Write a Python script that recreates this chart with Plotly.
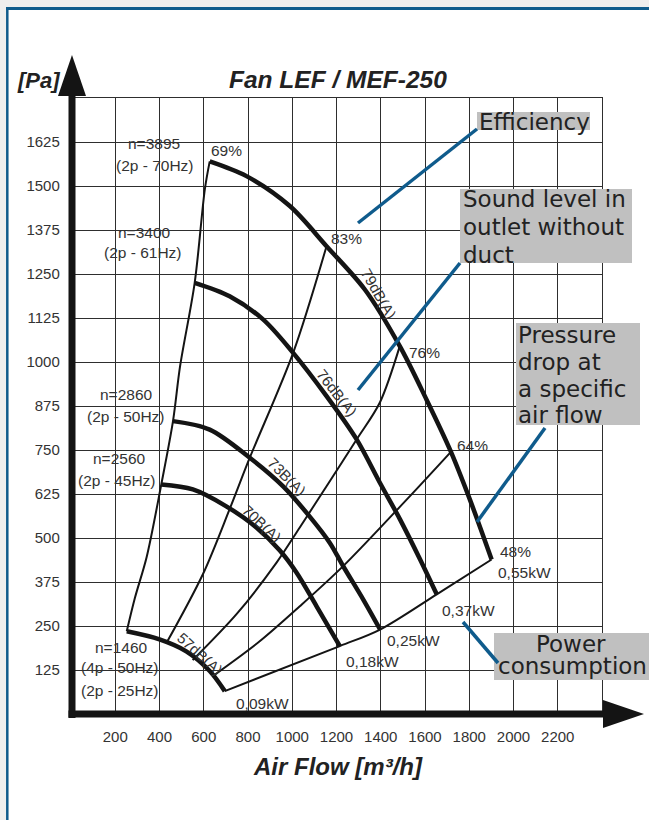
import plotly.graph_objects as go

# ---------------- data ----------------
flow_ticks = [200, 400, 600, 800, 1000, 1200, 1400, 1600, 1800, 2000, 2200]
pressure_ticks = [125, 250, 375, 500, 625, 750, 875, 1000, 1125, 1250, 1375, 1500, 1625]

# fan curves (air flow m3/h, static pressure Pa)
n3895_flow = [627, 793, 989, 1155, 1328, 1486, 1607, 1713, 1803, 1901]
n3895_pa = [1570, 1528, 1443, 1329, 1206, 1045, 893, 751, 609, 439]
n3400_flow = [559, 717, 868, 1004, 1155, 1291, 1396, 1487, 1578, 1653]
n3400_pa = [1225, 1187, 1121, 1026, 903, 780, 657, 553, 439, 340]
n2860_flow = [461, 627, 808, 960, 1080, 1170, 1231, 1321, 1397]
n2860_pa = [832, 808, 728, 646, 560, 486, 419, 325, 240]
n2560_flow = [408, 551, 702, 838, 943, 1019, 1110, 1215]
n2560_pa = [652, 638, 590, 530, 465, 402, 306, 193]
n1460_flow = [252, 400, 521, 627, 695]
n1460_pa = [235, 212, 178, 122, 65]

# left boundary (curve start points)
bound_flow = [252, 289, 342, 408, 461, 493, 559, 605, 627]
bound_pa = [235, 330, 446, 652, 832, 988, 1225, 1491, 1570]
# power / 48 % line (curve end points)
power_flow = [695, 1215, 1397, 1653, 1901]
power_pa = [65, 193, 240, 340, 439]
# efficiency lines
eff83_flow = [430, 596, 717, 808, 1004, 1155]
eff83_pa = [200, 397, 582, 728, 1026, 1329]
eff76_flow = [550, 750, 929, 1034, 1155, 1291, 1396, 1486]
eff76_pa = [153, 285, 430, 530, 647, 780, 885, 1045]
eff64_flow = [642, 850, 1034, 1230, 1517, 1713]
eff64_pa = [108, 205, 306, 420, 609, 742]

speed_labels = [["n=3895", "(2p - 70Hz)"], ["n=3400", "(2p - 61Hz)"],
                ["n=2860", "(2p - 50Hz)"], ["n=2560", "(2p - 45Hz)"],
                ["n=1460", "(4p - 50Hz)", "(2p - 25Hz)"]]
eff_labels = ["69%", "83%", "76%", "64%", "48%"]
power_labels = ["0,09kW", "0,18kW", "0,25kW", "0,37kW", "0,55kW"]
sound_labels = ["79dB(A)", "76dB(A)", "73B(A)", "70B(A)", "57dB(A)"]
callouts = [["Efficiency"], ["Sound level in", "outlet without", "duct"],
            ["Pressure", "drop at", "a specific", "air flow"], ["Power", "consumption"]]

# ---------------- layout geometry ----------------
W, H = 649, 820
ML, MR, MT, MB = 71, 47, 98, 106
PW, PH = W - ML - MR, H - MT - MB


def P(x, y):
    """pixel -> paper coordinates"""
    return (x - ML) / PW, (H - MB - y) / PH


FONT = "Liberation Sans, Arial, sans-serif"
VFONT = "DejaVu Sans, Verdana, sans-serif"
INK = "#141414"
TXT = "#333333"
BLUE = "#0f5b8c"

fig = go.Figure()

thick = dict(color=INK, width=4.5, shape="spline", smoothing=0.9)
thin = dict(color=INK, width=2, shape="spline", smoothing=0.9)
for fx, fy in [(n3895_flow, n3895_pa), (n3400_flow, n3400_pa), (n2860_flow, n2860_pa),
               (n2560_flow, n2560_pa), (n1460_flow, n1460_pa)]:
    fig.add_trace(go.Scatter(x=fx, y=fy, mode="lines", line=thick, hoverinfo="skip"))
for fx, fy in [(bound_flow, bound_pa), (power_flow, power_pa), (eff83_flow, eff83_pa),
               (eff76_flow, eff76_pa), (eff64_flow, eff64_pa)]:
    fig.add_trace(go.Scatter(x=fx, y=fy, mode="lines", line=thin, hoverinfo="skip"))

shapes = []
# page frame
shapes.append(dict(type="rect", xref="paper", yref="paper", layer="below",
                   x0=P(0, 0)[0], y0=P(0, 0)[1], x1=P(649, 7)[0], y1=P(649, 7)[1],
                   fillcolor="#eeeeee", line=dict(width=0)))
shapes.append(dict(type="rect", xref="paper", yref="paper", layer="below",
                   x0=P(0, 0)[0], y0=P(0, 0)[1], x1=P(6, 820)[0], y1=P(6, 820)[1],
                   fillcolor="#eeeeee", line=dict(width=0)))
shapes.append(dict(type="line", xref="paper", yref="paper",
                   x0=P(6, 8.5)[0], y0=P(6, 8.5)[1], x1=P(649, 8.5)[0], y1=P(649, 8.5)[1],
                   line=dict(color=BLUE, width=3)))
shapes.append(dict(type="line", xref="paper", yref="paper",
                   x0=P(7.3, 7)[0], y0=P(7.3, 7)[1], x1=P(7.3, 820)[0], y1=P(7.3, 820)[1],
                   line=dict(color=BLUE, width=2.5)))


def path(pts):
    s = "M " + " L ".join(f"{P(x, y)[0]:.5f},{P(x, y)[1]:.5f}" for x, y in pts) + " Z"
    return s


# axes with arrows
shapes.append(dict(type="line", xref="paper", yref="paper",
                   x0=P(72, 718)[0], y0=P(72, 718)[1], x1=P(72, 92)[0], y1=P(72, 92)[1],
                   line=dict(color=INK, width=7)))
shapes.append(dict(type="path", xref="paper", yref="paper",
                   path=path([(72, 55), (86, 96), (58, 96)]), fillcolor=INK, line=dict(width=0)))
shapes.append(dict(type="line", xref="paper", yref="paper",
                   x0=P(68.5, 714)[0], y0=P(68.5, 714)[1], x1=P(606, 714)[0], y1=P(606, 714)[1],
                   line=dict(color=INK, width=7)))
shapes.append(dict(type="path", xref="paper", yref="paper",
                   path=path([(644, 714), (603, 700), (603, 728)]), fillcolor=INK, line=dict(width=0)))

# callout boxes
for (x0, y0, x1, y1) in [(477, 112, 590, 130), (460, 189, 632, 263), (516, 323, 640, 425), (494, 633, 649, 680)]:
    shapes.append(dict(type="rect", xref="paper", yref="paper", layer="above",
                       x0=P(x0, y0)[0], y0=P(x0, y0)[1], x1=P(x1, y1)[0], y1=P(x1, y1)[1],
                       fillcolor="#c0c0c0", line=dict(width=0)))
# leader lines
for (x0, y0, x1, y1) in [(477, 129, 358, 223), (460, 263, 358, 390), (545, 428, 477, 522), (463, 622, 498, 663)]:
    shapes.append(dict(type="line", xref="paper", yref="paper",
                       x0=P(x0, y0)[0], y0=P(x0, y0)[1], x1=P(x1, y1)[0], y1=P(x1, y1)[1],
                       line=dict(color=BLUE, width=3.5)))

ann = []


def text(t, x, y, size=15.5, color=TXT, family=FONT, xanchor="center", angle=0):
    px_, py_ = P(x, y)
    ann.append(dict(text=t, x=px_, y=py_, xref="paper", yref="paper", showarrow=False,
                    xanchor=xanchor, yanchor="middle", textangle=angle,
                    font=dict(size=size, color=color, family=family)))


# titles
text("<b><i>Fan LEF / MEF-250</i></b>", 338, 80, size=24.5, color="#222")
text("<b><i>[Pa]</i></b>", 38, 81, size=22, color="#222")
text("<b><i>Air Flow [m³/h]</i></b>", 338, 766, size=24, color="#222")

# speed labels
speed_pos = [[(154, 143), (155, 165)], [(144, 232), (143, 252)], [(126, 395), (126, 417)],
             [(119, 458), (117, 480)], [(121, 647), (120, 667), (120, 690)]]
for lbls, poss in zip(speed_labels, speed_pos):
    for t, (x, y) in zip(lbls, poss):
        text(t, x, y)

for t, (x, y) in zip(eff_labels, [(226, 150), (346, 238), (424, 352), (472, 445), (515, 551)]):
    text(t, x, y)
for t, (x, y) in zip(power_labels, [(262, 703), (372, 661), (413, 640), (468, 610), (524, 572)]):
    text(t, x, y)
for t, (x, y, a) in zip(sound_labels, [(379, 293, 60), (337, 392, 52), (287, 476, 45),
                                       (262, 523, 43), (200, 653, 42)]):
    text(t, x, y, size=15, angle=a)

# callout texts (left x, baseline y)
call_pos = [[(477, 130)], [(461, 207), (461, 235), (461, 263)],
            [(516, 343), (516, 370), (516, 397), (516, 423)], [(None, 652), (496, 674)]]
for lines, poss in zip(callouts, call_pos):
    for t, (x, yb) in zip(lines, poss):
        if x is None:
            text(t, 571, yb - 8, size=23, color="#222", family=VFONT)
        else:
            text(t, x, yb - 8, size=23, color="#222", family=VFONT, xanchor="left")

axis_common = dict(showgrid=True, gridcolor="#2e2e2e", gridwidth=1.4, zeroline=False,
                   showline=True, mirror=True, linecolor="#2e2e2e", linewidth=1.4,
                   ticks="", fixedrange=True,
                   tickfont=dict(family=FONT, size=15, color=TXT))

fig.update_layout(
    width=W, height=H, margin=dict(l=ML, r=MR, t=MT, b=MB, autoexpand=False),
    paper_bgcolor="white", plot_bgcolor="white", showlegend=False,
    xaxis=dict(range=[0, 2400], tickvals=flow_ticks, ticktext=[str(v) for v in flow_ticks],
               ticklabelstandoff=9, **axis_common),
    yaxis=dict(range=[0, 1750], tickvals=pressure_ticks, ticktext=[str(v) for v in pressure_ticks],
               ticklabelstandoff=7, **axis_common),
    shapes=shapes, annotations=ann,
)

fig.write_html("out.html", config={"displayModeBar": False},
               post_script="document.body.style.margin='0';document.body.style.overflow='hidden';")
